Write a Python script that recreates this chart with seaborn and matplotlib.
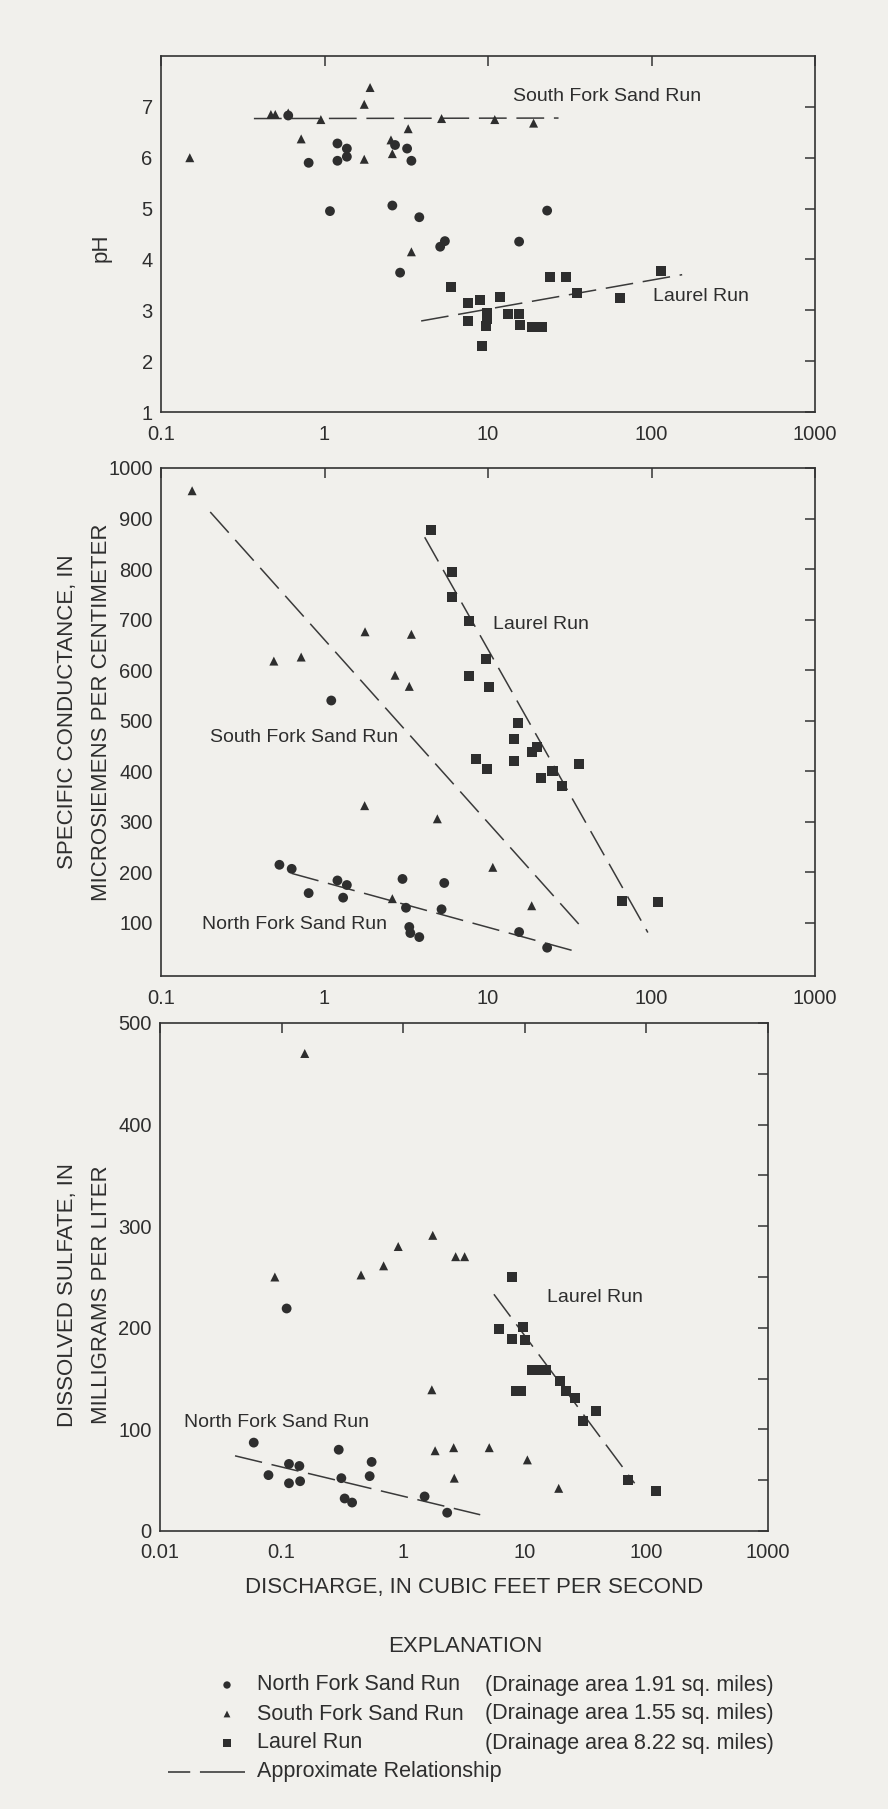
import numpy as np
import pandas as pd
import matplotlib
matplotlib.use("Agg")
import matplotlib.pyplot as plt
from matplotlib.ticker import FixedLocator, NullLocator, MultipleLocator
import seaborn as sns

# ---------------- data ----------------
STREAMS = ["North Fork Sand Run", "South Fork Sand Run", "Laurel Run"]

# pH panel
PH_NF_Q = [0.6, 0.8, 1.08, 1.2, 1.2, 1.37, 1.37, 2.6, 2.7, 2.9, 3.2, 3.4, 3.8, 5.1, 5.45, 15.5, 23]
PH_NF_V = [6.83, 5.9, 4.95, 6.28, 5.94, 6.18, 6.02, 5.06, 6.25, 3.74, 6.18, 5.94, 4.83, 4.25, 4.36, 4.35, 4.96]
PH_SF_Q = [0.15, 0.47, 0.5, 0.6, 0.72, 0.95, 1.75, 1.9, 1.75, 2.55, 2.6, 3.25, 3.4, 5.2, 11, 19]
PH_SF_V = [6.0, 6.85, 6.85, 6.88, 6.37, 6.75, 7.05, 7.38, 5.97, 6.35, 6.08, 6.57, 4.15, 6.77, 6.75, 6.68]
PH_LR_Q = [5.9, 7.5, 7.5, 8.9, 9.2, 9.8, 9.9, 9.7, 11.8, 13.3, 15.4, 15.6, 18.5, 21.5, 24, 30, 35, 64, 115]
PH_LR_V = [3.45, 3.15, 2.78, 3.2, 2.3, 2.95, 2.82, 2.7, 3.26, 2.92, 2.93, 2.72, 2.68, 2.68, 3.66, 3.66, 3.34, 3.25, 3.78]
PH_SF_LINE_Q = [0.37, 27]
PH_SF_LINE_V = [6.77, 6.78]
PH_LR_LINE_Q = [3.9, 154]
PH_LR_LINE_V = [2.79, 3.70]

# specific conductance panel
SC_NF_Q = [1.1, 0.53, 0.63, 0.8, 1.2, 1.37, 1.3, 3.0, 3.15, 3.3, 3.35, 3.8, 5.4, 5.2, 15.5, 23]
SC_NF_V = [540, 215, 207, 159, 184, 175, 150, 187, 130, 92, 80, 72, 179, 127, 82, 51]
SC_SF_Q = [0.155, 0.49, 0.72, 1.77, 3.4, 2.7, 3.3, 1.76, 4.9, 10.7, 2.6, 18.5]
SC_SF_V = [955, 618, 626, 676, 671, 590, 568, 332, 306, 210, 148, 134]
SC_LR_Q = [4.5, 6.0, 6.05, 7.6, 9.7, 7.6, 10.1, 15.3, 14.5, 14.5, 8.5, 9.8, 18.5, 20, 21, 24.8, 28.5, 36, 66, 110]
SC_LR_V = [877, 794, 745, 697, 623, 588, 566, 496, 464, 420, 424, 404, 439, 448, 386, 401, 371, 415, 143, 141]
SC_SF_LINE_Q = [0.2, 37]
SC_SF_LINE_V = [913, 93]
SC_LR_LINE_Q = [4.1, 95]
SC_LR_LINE_V = [863, 81]
SC_NF_LINE_Q = [0.63, 35]
SC_NF_LINE_V = [198, 43]

# sulfate panel
SO_NF_Q = [0.11, 0.059, 0.078, 0.115, 0.115, 0.14, 0.142, 0.295, 0.31, 0.33, 0.38, 0.55, 0.53, 1.5, 2.3]
SO_NF_V = [219, 87, 55, 66, 47, 64, 49, 80, 52, 32, 28, 68, 54, 34, 18]
SO_SF_Q = [0.155, 0.088, 0.45, 0.69, 0.91, 1.75, 2.7, 3.2, 1.72, 1.83, 2.6, 2.63, 5.1, 10.5, 19]
SO_SF_V = [470, 250, 252, 261, 280, 291, 270, 270, 139, 79, 82, 52, 82, 70, 42]
SO_LR_Q = [7.8, 6.1, 7.8, 9.6, 10.1, 11.4, 13.1, 14.8, 8.5, 9.3, 19.4, 22, 25.7, 30, 38.6, 70, 121]
SO_LR_V = [250, 199, 189, 201, 188, 158, 158, 158, 138, 138, 148, 138, 131, 108, 118, 50, 39]
SO_NF_LINE_Q = [0.0414, 4.3]
SO_NF_LINE_V = [74, 16]
SO_LR_LINE_Q = [5.57, 80]
SO_LR_LINE_V = [233, 47]

DRAINAGE = ["(Drainage area 1.91 sq. miles)", "(Drainage area 1.55 sq. miles)",
            "(Drainage area 8.22 sq. miles)"]

# ---------------- style ----------------
sns.set_theme(style="white")
BG = "#f1f0ec"
INK = "#2e2e2e"
plt.rcParams["font.family"] = ["Liberation Sans", "DejaVu Sans"]
plt.rcParams["lines.scale_dashes"] = False
plt.rcParams["text.color"] = INK

W, H = 888, 1809
fig = plt.figure(figsize=(W / 100, H / 100), dpi=100, facecolor=BG)


def rect(l, t, r, b):
    return [l / W, 1 - b / H, (r - l) / W, (b - t) / H]


MARK = {"North Fork Sand Run": ("o", 50), "South Fork Sand Run": ("^", 42), "Laurel Run": ("s", 52)}
DASH = (0, (20, 7))


def panel(ax, series, lines, xlim, xticks, xlabels, ylim, yticks, ylabels, yminor=None):
    ax.set_facecolor(BG)
    for name, q, v in series:
        df = pd.DataFrame({"Q": q, "V": v})
        m, s = MARK[name]
        sns.scatterplot(data=df, x="Q", y="V", marker=m, s=s, color=INK,
                        edgecolor="none", linewidth=0, ax=ax, legend=False, zorder=3)
    for q, v in lines:
        ax.plot(q, v, color="#3a3a3a", lw=1.1, ls=DASH, zorder=2)
    ax.set_xscale("log")
    ax.set_xlim(*xlim)
    ax.set_ylim(*ylim)
    ax.xaxis.set_major_locator(FixedLocator(xticks))
    ax.xaxis.set_minor_locator(NullLocator())
    ax.set_xticklabels(xlabels)
    ax.yaxis.set_major_locator(FixedLocator(yticks))
    ax.set_yticklabels(ylabels)
    if yminor is not None:
        ax.yaxis.set_minor_locator(MultipleLocator(yminor))
    else:
        ax.yaxis.set_minor_locator(NullLocator())
    ax.tick_params(which="both", direction="in", length=7, width=1.1, color="#333333",
                   top=True, right=True, labelsize=14.5, labelcolor=INK)
    ax.tick_params(axis="x", pad=9)
    ax.tick_params(axis="y", pad=6)
    ax.set_xlabel("")
    ax.set_ylabel("")
    for sp in ax.spines.values():
        sp.set_color("#333333")
        sp.set_linewidth(1.2)
        sp.set_visible(True)


TXT = dict(fontsize=14, color=INK, ha="left", va="center")

# --- pH ---
ax1 = fig.add_axes(rect(161, 56, 815, 412))
panel(ax1,
      [("North Fork Sand Run", PH_NF_Q, PH_NF_V), ("South Fork Sand Run", PH_SF_Q, PH_SF_V),
       ("Laurel Run", PH_LR_Q, PH_LR_V)],
      [(PH_SF_LINE_Q, PH_SF_LINE_V), (PH_LR_LINE_Q, PH_LR_LINE_V)],
      (0.1, 1000), [0.1, 1, 10, 100, 1000], ["0.1", "1", "10", "100", "1000"],
      (1, 8), [1, 2, 3, 4, 5, 6, 7], ["1", "2", "3", "4", "5", "6", "7"])
ax1.text(14.2, 7.2, "South Fork Sand Run", **TXT)
ax1.text(102, 3.28, "Laurel Run", **TXT)

# --- specific conductance ---
ax2 = fig.add_axes(rect(161, 468, 815, 976))
panel(ax2,
      [("North Fork Sand Run", SC_NF_Q, SC_NF_V), ("South Fork Sand Run", SC_SF_Q, SC_SF_V),
       ("Laurel Run", SC_LR_Q, SC_LR_V)],
      [(SC_SF_LINE_Q, SC_SF_LINE_V), (SC_LR_LINE_Q, SC_LR_LINE_V), (SC_NF_LINE_Q, SC_NF_LINE_V)],
      (0.1, 1000), [0.1, 1, 10, 100, 1000], ["0.1", "1", "10", "100", "1000"],
      (-5, 1000), list(range(100, 1001, 100)), [str(v) for v in range(100, 1001, 100)])
ax2.text(10.8, 690, "Laurel Run", **TXT)
ax2.text(0.2, 467, "South Fork Sand Run", **TXT)
ax2.text(0.177, 97, "North Fork Sand Run", **TXT)

# --- sulfate ---
ax3 = fig.add_axes(rect(160, 1023, 768, 1531))
panel(ax3,
      [("North Fork Sand Run", SO_NF_Q, SO_NF_V), ("South Fork Sand Run", SO_SF_Q, SO_SF_V),
       ("Laurel Run", SO_LR_Q, SO_LR_V)],
      [(SO_NF_LINE_Q, SO_NF_LINE_V), (SO_LR_LINE_Q, SO_LR_LINE_V)],
      (0.01, 1000), [0.01, 0.1, 1, 10, 100, 1000], ["0.01", "0.1", "1", "10", "100", "1000"],
      (0, 500), list(range(0, 501, 100)), [str(v) for v in range(0, 501, 100)], yminor=50)
ax3.text(15.2, 230, "Laurel Run", **TXT)
ax3.text(0.0157, 107, "North Fork Sand Run", **TXT)

# ---------------- axis titles & explanation (pixel overlay) ----------------
ov = fig.add_axes([0, 0, 1, 1], zorder=-1)
ov.set_xlim(0, W)
ov.set_ylim(H, 0)
ov.axis("off")
ov.patch.set_alpha(0)

LBL = dict(fontsize=16, color=INK, rotation=90, ha="center", va="center")
ov.text(101, 248, "pH", **LBL)
ov.text(68, 712, "SPECIFIC CONDUCTANCE, IN", **LBL)
ov.text(101, 712, "MICROSIEMENS PER CENTIMETER", **LBL)
ov.text(68, 1295, "DISSOLVED SULFATE, IN", **LBL)
ov.text(101, 1295, "MILLIGRAMS PER LITER", **LBL)

ov.text(474, 1588, "DISCHARGE, IN CUBIC FEET PER SECOND", fontsize=16, color=INK,
        ha="center", va="center")
ov.text(465, 1647, "EXPLANATION", fontsize=16, color=INK, ha="center", va="center")

rows = [1685, 1714, 1743]
leg_marks = {"North Fork Sand Run": ("o", 28), "South Fork Sand Run": ("^", 24), "Laurel Run": ("s", 26)}
for name, y, dr in zip(STREAMS, rows, DRAINAGE):
    m, s = leg_marks[name]
    ov.scatter([227], [y], marker=m, s=s, color=INK, edgecolor="none")
    ov.text(257, y, name, fontsize=15.5, color=INK, ha="left", va="center")
    ov.text(485, y, dr, fontsize=15.5, color=INK, ha="left", va="center")
ov.plot([168, 245], [1772, 1772], color=INK, lw=1.1, ls=(0, (16, 7, 34, 100)))
ov.text(257, 1772, "Approximate Relationship", fontsize=15.5, color=INK, ha="left", va="center")

fig.savefig("out.png", dpi=100, facecolor=BG)
